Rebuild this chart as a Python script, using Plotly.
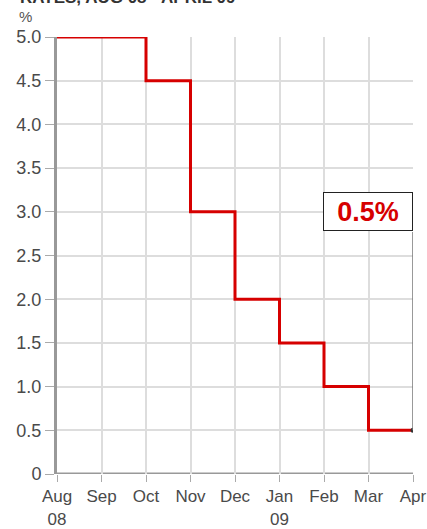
import plotly.graph_objects as go

# Data: Bank rate at start of each month
months = ["Aug 08", "Sep 08", "Oct 08", "Nov 08", "Dec 08", "Jan 09", "Feb 09", "Mar 09", "Apr 09"]
rates = [5.0, 5.0, 4.5, 3.0, 2.0, 1.5, 1.0, 0.5, 0.5]

x_tick_text = ["Aug<br>08", "Sep", "Oct", "Nov", "Dec", "Jan<br>09", "Feb", "Mar", "Apr"]
y_tick_vals = [0, 0.5, 1.0, 1.5, 2.0, 2.5, 3.0, 3.5, 4.0, 4.5, 5.0]
y_tick_text = ["0", "0.5", "1.0", "1.5", "2.0", "2.5", "3.0", "3.5", "4.0", "4.5", "5.0"]

title_text = "RATES, AUG 08 - APRIL 09"
label_text = "0.5%"
label_y = 3.0
label_bottom = 2.77

FONT = "Liberation Sans"

fig = go.Figure()
fig.add_trace(go.Scatter(x=months, y=rates, mode="lines",
                         line=dict(color="#d60000", width=3, shape="hv"), hoverinfo="skip"))
fig.add_trace(go.Scatter(x=[months[-1]], y=[rates[-1]], mode="markers",
                         marker=dict(color="#333333", size=5), hoverinfo="skip"))

# connector from label to last point
fig.add_shape(type="line", x0=months[-1], x1=months[-1], y0=rates[-1], y1=label_bottom,
              line=dict(color="#777777", width=1.5))
fig.add_annotation(x=months[-1], y=label_y, text="<b>" + label_text + "</b>", showarrow=False,
                   xanchor="right", yanchor="middle", bgcolor="white", bordercolor="#222222",
                   borderwidth=1, borderpad=0, width=88, height=37, align="center",
                   font=dict(color="#d60000", size=27, family=FONT))

fig.add_annotation(x=-0.11, xref="paper", y=1.063, yref="paper", text="<b>" + title_text + "</b>",
                   showarrow=False, xanchor="left", yanchor="bottom",
                   font=dict(size=17, color="#333333", family=FONT))
fig.add_annotation(x=-0.113, xref="paper", y=1.022, yref="paper", text="%",
                   showarrow=False, xanchor="left", yanchor="bottom",
                   font=dict(size=15, color="#555555", family=FONT))

fig.update_layout(
    width=427, height=529,
    margin=dict(l=57, r=14, t=37, b=55),
    paper_bgcolor="white", plot_bgcolor="white",
    showlegend=False,
    font=dict(family=FONT, size=18, color="#4a4a4a"),
)
fig.update_xaxes(type="category", range=[0, len(months) - 1], tickvals=months,
                 ticktext=x_tick_text, showgrid=True, gridcolor="#dddddd", gridwidth=1.5,
                 ticks="outside", ticklen=7, tickcolor="#aaaaaa", showline=False,
                 zeroline=False, tickangle=0, automargin=False, tickfont=dict(size=17))
fig.update_yaxes(range=[0, 5.0], tickvals=y_tick_vals, ticktext=y_tick_text,
                 showgrid=True, gridcolor="#dddddd", gridwidth=1.5,
                 ticks="outside", ticklen=9, tickcolor="#aaaaaa",
                 showline=True, linecolor="#999999", linewidth=3,
                 zeroline=False, automargin=False)
fig.add_shape(type="line", xref="paper", x0=0, x1=1, yref="y", y0=0, y1=0,
              line=dict(color="#999999", width=3), layer="below")

fig.write_html("out.html", config={"displayModeBar": False},
               post_script="document.body.style.margin='0px';document.body.style.overflow='hidden';")
